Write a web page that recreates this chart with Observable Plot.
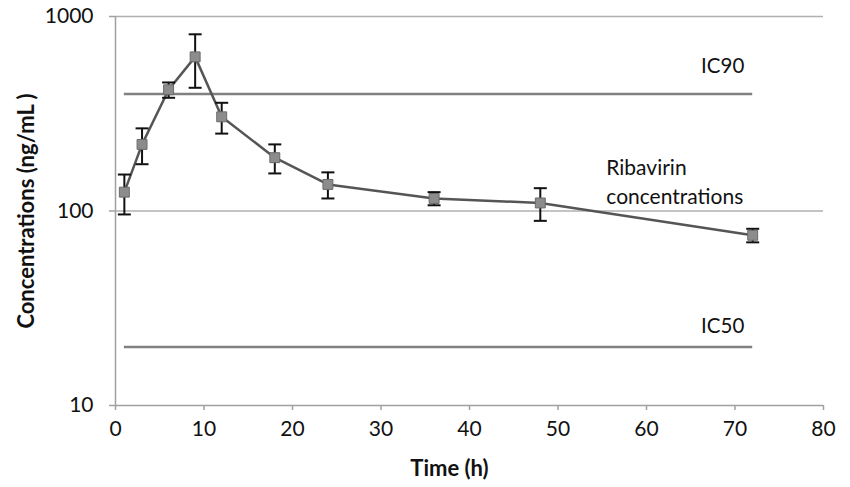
<!DOCTYPE html>
<html>
<head>
<meta charset="utf-8">
<script src="https://cdn.jsdelivr.net/npm/d3@7"></script>
<script src="https://cdn.jsdelivr.net/npm/@observablehq/plot@0.6"></script>
<style>
  body { margin: 0; background: #fff; }
  svg { font-family: Lato, "Open Sans", sans-serif; }
</style>
</head>
<body>
<div id="chart"></div>
<script>
// Data
const times = [1, 3, 6, 9, 12, 18, 24, 36, 48, 72];
const concentrations = [125, 220, 420, 620, 305, 188, 137, 116, 110, 75];
const errors = [29, 46, 38, 190, 55, 32, 21, 9, 21, 6];
const thresholdLabels = ["IC90", "IC50"];
const thresholdValues = [400, 20];
const thresholdStart = 1;
const thresholdEnd = 72;
const xTicks = [0, 10, 20, 30, 40, 50, 60, 70, 80];
const yTicks = [10, 100, 1000];
const seriesLabel = "Ribavirin\nconcentrations";
const xLabel = "Time (h)";
const yLabel = "Concentrations (ng/mL )";

const data = times.map((t, i) => ({t, c: concentrations[i], e: errors[i]}));
const thresholds = thresholdLabels.map((label, i) => ({label, value: thresholdValues[i]}));

const capSymbol = {
  draw(context) {
    context.moveTo(-6.5, 0);
    context.lineTo(6.5, 0);
  }
};

const chart = Plot.plot({
  width: 850,
  height: 487,
  marginLeft: 115,
  marginRight: 27,
  marginTop: 16,
  marginBottom: 82,
  style: {fontFamily: "Lato, 'Open Sans', sans-serif", background: "#fff", overflow: "visible"},
  x: {domain: [0, 80]},
  y: {type: "log", domain: [10, 1000]},
  marks: [
    Plot.ruleY([100, 1000], {x1: 0, x2: 80, stroke: "#b0b0b0", strokeWidth: 1.5}),
    Plot.ruleY([10], {x1: 0, x2: 80, stroke: "#a0a0a0", strokeWidth: 1.5}),
    Plot.ruleX([0], {y1: 10, y2: 1000, stroke: "#a0a0a0", strokeWidth: 1.5}),
    Plot.axisX({ticks: xTicks, tickSize: 5, tickPadding: 11, stroke: "#a0a0a0", strokeWidth: 1.5, fontSize: 21, fill: "#111", label: null}),
    Plot.axisY({ticks: yTicks, tickSize: 6, tickPadding: 16, stroke: "#a0a0a0", strokeWidth: 1.5, fontSize: 21, fill: "#111", tickFormat: d => String(d), label: null}),
    Plot.ruleY(thresholds, {y: "value", x1: thresholdStart, x2: thresholdEnd, stroke: "#808080", strokeWidth: 2.5}),
    Plot.text(thresholds.filter(d => d.label === "IC90"), {y: "value", x: thresholdEnd, text: "label", dx: -30, dy: -27, fontSize: 20.5, fill: "#111"}),
    Plot.text(thresholds.filter(d => d.label === "IC50"), {y: "value", x: thresholdEnd, text: "label", dx: -30, dy: -21, fontSize: 20.5, fill: "#111"}),
    Plot.line(data, {x: "t", y: "c", stroke: "#555", strokeWidth: 2.5}),
    Plot.ruleX(data, {x: "t", y1: d => d.c - d.e, y2: d => d.c + d.e, stroke: "#111", strokeWidth: 2}),
    Plot.dot(data, {x: "t", y: d => d.c + d.e, symbol: capSymbol, stroke: "#111", strokeWidth: 2, fill: "none"}),
    Plot.dot(data, {x: "t", y: d => d.c - d.e, symbol: capSymbol, stroke: "#111", strokeWidth: 2, fill: "none"}),
    Plot.dot(data, {x: "t", y: "c", symbol: "square", r: 5.6, fill: "#8c8c8c", stroke: "#6a6a6a", strokeWidth: 1}),
    Plot.text(data.filter(d => d.t === 48), {x: "t", y: "c", text: () => seriesLabel, textAnchor: "start", lineAnchor: "top", dx: 66, dy: -49, lineHeight: 1.4, fontSize: 21, fill: "#111"}),
    Plot.text([yLabel], {frameAnchor: "left", textAnchor: "middle", dx: -89, rotate: -90, fontSize: 22, fontWeight: "bold", fill: "#111"}),
    Plot.text([xLabel], {frameAnchor: "bottom", textAnchor: "middle", dx: -20, dy: 70, fontSize: 22, fontWeight: "bold", fill: "#111"})
  ]
});
document.getElementById("chart").appendChild(chart);
</script>
</body>
</html>
